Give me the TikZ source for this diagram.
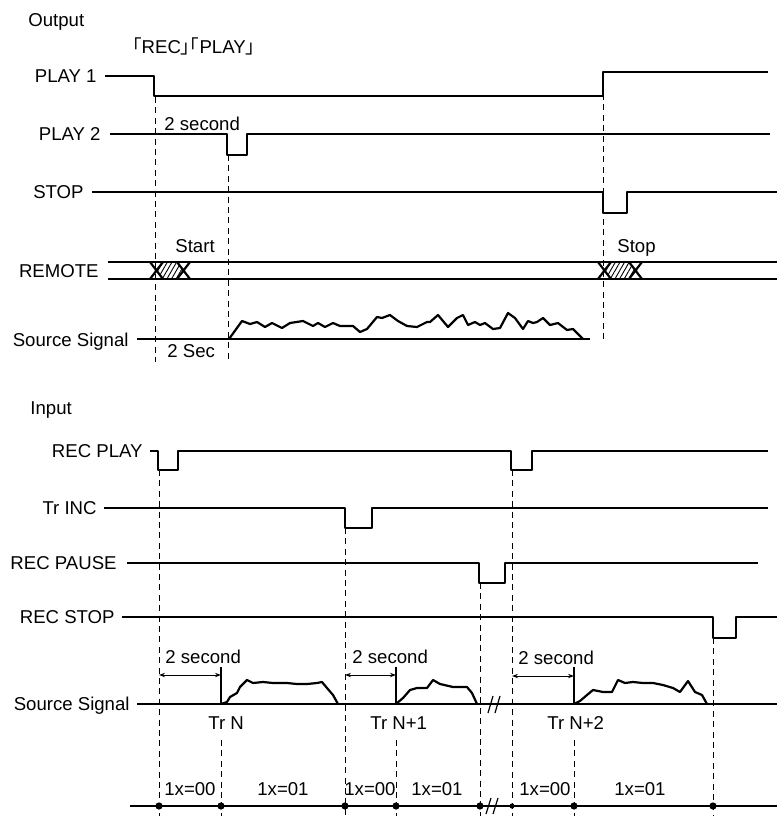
\documentclass[tikz,border=0pt]{standalone}
\usepackage{fontspec}
\setmainfont{Liberation Sans}
\newfontfamily\cjkfont[RawFeature=+halt]{Noto Sans CJK JP}
\usetikzlibrary{arrows.meta, patterns.meta}

\begin{document}
\begin{tikzpicture}[x=0.5pt, y=-0.5pt,
  sig/.style={line width=1.1pt, line join=round},
  guide/.style={line width=0.5pt, dash pattern=on 3pt off 2.2pt},
  lbl/.style={anchor=base east, inner sep=0pt, font=\fontsize{9.3}{11}\selectfont},
  txt/.style={anchor=base west, inner sep=0pt, font=\fontsize{9.3}{11}\selectfont},
  dim/.style={line width=0.45pt, {Stealth[length=3pt,width=2.2pt]}-{Stealth[length=3pt,width=2.2pt]}},
  dot/.style={circle, fill, inner sep=0pt, minimum size=3.6pt},
  hatch/.style={pattern={Lines[angle=60, distance=2pt, line width=0.45pt]}}]
  \useasboundingbox (0,0) rectangle (777,816);

  % output side
  \node[txt] (output) at (28,26) {Output};
  \node[txt] (keys) at (132,53) {{\cjkfont 「}REC{\cjkfont 」「}PLAY{\cjkfont 」}};

  \node[lbl] (play1) at (97,82) {PLAY 1};
  \draw[sig] (105,76) -- (154,76) -- (154,96) -- (603,96) -- (603,72) -- (768,72);

  \node[lbl] (play2) at (101,140) {PLAY 2};
  \draw[sig] (110,134) -- (227,134) -- (227,155) -- (247,155) -- (247,134) -- (770,134);
  \node[txt] (sec0) at (164,130) {2 second};

  \node[lbl] (stop) at (84,198) {STOP};
  \draw[sig] (92,192) -- (603,192) -- (603,213) -- (627,213) -- (627,192) -- (777,192);

  \node[lbl] (remote) at (99,277) {REMOTE};
  \draw[sig] (108,262) -- (777,262);
  \draw[sig] (108,279) -- (777,279);
  \foreach \a/\b in {150/190, 598/642} {
    \fill[white] (\a,263) rectangle (\b,278);
    \path[hatch] (\a+6.5,270.5) -- (\a+13,262) -- (\b-13,262) -- (\b-6.5,270.5)
      -- (\b-13,279) -- (\a+13,279) -- cycle;
    \draw[sig] (\a,262) -- (\a+13,279) (\a,279) -- (\a+13,262);
    \draw[sig] (\b-13,262) -- (\b,279) (\b-13,279) -- (\b,262);
  }
  \node[txt] (start) at (175,252) {Start};
  \node[txt] (stoptxt) at (617,252) {Stop};

  \node[lbl] (src1) at (129,346) {Source Signal};
  \draw[sig] (137,339) -- (590,339);
  \draw[sig] plot coordinates {(229,339) (242,321) (250,324) (257,322) (265,327) (272,323)
    (282,328) (290,323) (303,321) (313,326) (318,323) (325,327) (333,323) (340,326)
    (353,326) (360,332) (367,329) (377,317) (382,318) (390,315) (398,321) (407,326)
    (417,327) (427,322) (430,322) (438,315) (448,327) (457,318) (463,315) (468,325)
    (475,322) (480,325) (485,323) (493,329) (500,328) (508,313) (515,318) (523,329)
    (528,321) (533,323) (537,322) (543,318) (550,325) (558,323) (567,330) (573,329) (583,339)};

  \draw[guide] (155,97) -- (155,362);
  \draw[guide] (228,155) -- (228,362);
  \draw[guide] (603,94) -- (603,340);
  \node[txt] (sec1) at (167,357) {2 Sec};

  % input side
  \node[txt] (input) at (30,414) {Input};

  \node[lbl] (recplay) at (143,457) {REC PLAY};
  \draw[sig] (150,451) -- (158,451) -- (158,470) -- (178,470) -- (178,451) -- (511,451)
    -- (511,470) -- (532,470) -- (532,451) -- (768,451);

  \node[lbl] (trinc) at (97,514) {Tr INC};
  \draw[sig] (104,508) -- (345,508) -- (345,528) -- (372,528) -- (372,508) -- (768,508);

  \node[lbl] (recpause) at (117,569) {REC PAUSE};
  \draw[sig] (127,563) -- (479,563) -- (479,583) -- (505,583) -- (505,563) -- (758,563);

  \node[lbl] (recstop) at (115,623) {REC STOP};
  \draw[sig] (122,617) -- (713,617) -- (713,638) -- (736,638) -- (736,617) -- (777,617);

  \node[lbl] (src2) at (130,710) {Source Signal};
  \draw[sig] (137,704) -- (777,704);
  \draw[sig] plot coordinates {(221,704) (227,702) (230,697) (237,693) (240,687) (247,680)
    (253,683) (263,682) (273,683) (287,683) (297,684) (307,684) (317,683) (322,682)
    (327,688) (333,695) (338,704)};
  \draw[sig] plot coordinates {(396,704) (403,698) (410,690) (417,688) (427,688) (433,680)
    (440,684) (453,687) (467,687) (472,693) (477,704)};
  \draw[sig] plot coordinates {(574,704) (580,701) (587,695) (593,690) (603,692) (612,692)
    (618,680) (625,683) (633,682) (643,683) (653,683) (663,685) (673,688) (680,692)
    (688,681) (695,692) (702,695) (707,704)};
  \draw[line width=0.6pt] (488,713) -- (493,696) (495,713) -- (500,696);

  \draw[line width=0.6pt] (221,667) -- (221,704);
  \draw[line width=0.6pt] (396,667) -- (396,704);
  \draw[line width=0.6pt] (574,667) -- (574,704);
  \draw[dim] (159,675) -- (221,675);
  \draw[dim] (345,675) -- (396,675);
  \draw[dim] (512,676) -- (574,676);
  \node[txt] (sec2) at (165,663) {2 second};
  \node[txt] (sec3) at (352,663) {2 second};
  \node[txt] (sec4) at (518,664) {2 second};

  \node[txt] (trn0) at (208,729) {Tr N};
  \node[txt] (trn1) at (370,729) {Tr N+1};
  \node[txt] (trn2) at (547,729) {Tr N+2};

  \draw[guide] (159,470) -- (159,816);
  \draw[guide] (221,740) -- (221,816);
  \draw[guide] (345,528) -- (345,816);
  \draw[guide] (396,740) -- (396,816);
  \draw[guide] (480,583) -- (480,816);
  \draw[guide] (512,470) -- (512,816);
  \draw[guide] (574,740) -- (574,816);
  \draw[guide] (713,638) -- (713,816);

  \draw[sig] (130,806) -- (777,806);
  \foreach \x [count=\i] in {159,221,345,396,480,574,713}
    \node[dot] (d\i) at (\x,806) {};
  \node[dot, minimum size=2.6pt] (d8) at (512,806) {};
  \draw[line width=0.6pt] (486,814) -- (491,798) (493,814) -- (498,798);

  \foreach \x/\t [count=\i] in {190/00, 283/01, 370/00, 437/01, 545/00, 640/01}
    \node[txt, anchor=base] (ix\i) at (\x,795) {1x=\t};
\end{tikzpicture}
\end{document}
